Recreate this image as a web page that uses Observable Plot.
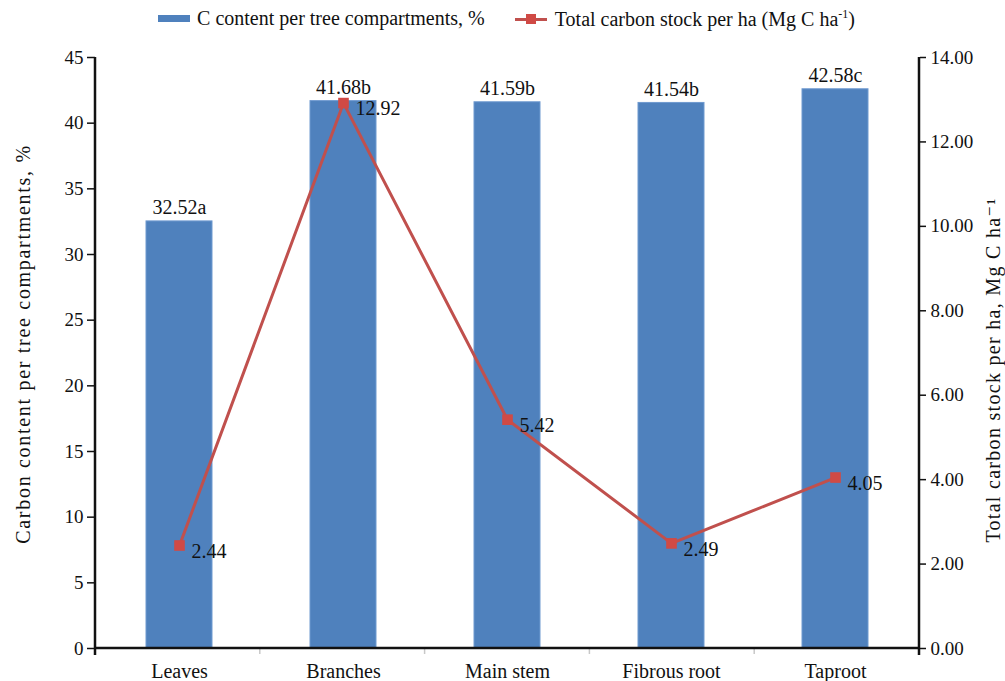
<!DOCTYPE html>
<html>
<head>
<meta charset="utf-8">
<script src="https://cdn.jsdelivr.net/npm/d3@7"></script>
<script src="https://cdn.jsdelivr.net/npm/@observablehq/plot@0.6"></script>
<style>
  html, body { margin: 0; padding: 0; background: #fff; }
  body { width: 1005px; height: 681px; overflow: hidden; font-family: "Liberation Serif", "DejaVu Serif", serif; }
  #legend { height: 36px; display: flex; justify-content: center; align-items: center; font-size: 20px; color: #111; padding-left: 8px; padding-top: 1px; box-sizing: border-box; }
  .item { display: flex; align-items: center; }
  .sw-bar { width: 32px; height: 7px; background: #4f81bd; margin-right: 7px; }
  .sw-line { position: relative; width: 32px; height: 10px; margin-right: 8px; }
  .sw-line::before { content: ""; position: absolute; left: 0; right: 0; top: 4px; height: 3px; background: #c0504d; }
  .sw-line::after { content: ""; position: absolute; left: 11px; top: 0; width: 10px; height: 10px; background: #d04a45; }
  sup { font-size: 12px; }
  #chart svg text { font-family: "Liberation Serif", "DejaVu Serif", serif !important; }
</style>
</head>
<body>
<div id="legend">
  <div class="item"><div class="sw-bar"></div><span>C content per tree compartments, %</span></div>
  <div class="item" style="margin-left:30px"><div class="sw-line"></div><span>Total carbon stock per ha (Mg C ha<sup>-1</sup>)</span></div>
</div>
<div id="chart"></div>
<script>
const categories = ["Leaves", "Branches", "Main stem", "Fibrous root", "Taproot"];
const carbonContent = [32.52, 41.68, 41.59, 41.54, 42.58];
const significance = ["a", "b", "b", "b", "c"];
const carbonStock = [2.44, 12.92, 5.42, 2.49, 4.05];
const leftTicks = [0, 5, 10, 15, 20, 25, 30, 35, 40, 45];
const rightTicks = [0, 2, 4, 6, 8, 10, 12, 14];
const leftMax = 45;
const rightMax = 14;
const ratio = leftMax / rightMax;
const leftTitle = "Carbon content per tree compartments, %";
const rightTitle = "Total carbon stock per ha, Mg C ha\u207B\u00B9";
const serif = "\"Liberation Serif\", \"DejaVu Serif\", serif";

const rows = categories.map((c, i) => ({
  cat: c,
  content: carbonContent[i],
  label: carbonContent[i].toFixed(2) + significance[i],
  stock: carbonStock[i],
  stockScaled: carbonStock[i] * ratio
}));

function frameLines(index, scales, values, dims) {
  const {width, height, marginLeft, marginRight, marginTop, marginBottom} = dims;
  const l = marginLeft, r = width - marginRight, b = height - marginBottom, t = marginTop;
  const g = d3.create("svg:g");
  const n = categories.length, step = (r - l) / n;
  for (let i = 1; i < n; i++) {
    g.append("line").attr("x1", l + i * step).attr("x2", l + i * step)
      .attr("y1", b).attr("y2", b + 6).attr("stroke", "#c8c8c8").attr("stroke-width", 1.5);
  }
  g.append("line").attr("x1", l).attr("x2", l).attr("y1", t).attr("y2", b + 7)
    .attr("stroke", "#111").attr("stroke-width", 2.5);
  g.append("line").attr("x1", r).attr("x2", r).attr("y1", t).attr("y2", b + 7)
    .attr("stroke", "#111").attr("stroke-width", 2.5);
  g.append("line").attr("x1", l - 1).attr("x2", r + 1).attr("y1", b).attr("y2", b)
    .attr("stroke", "#111").attr("stroke-width", 2.5);
  return g.node();
}

const chart = Plot.plot({
  width: 1005,
  height: 645,
  marginTop: 21,
  marginBottom: 33,
  marginLeft: 95,
  marginRight: 86,
  style: { fontFamily: serif, fontSize: "20px", color: "#111", background: "#fff" },
  x: { domain: categories, paddingInner: 0.6, paddingOuter: 0.3, label: null },
  y: { domain: [0, leftMax], label: null },
  marks: [
    Plot.barY(rows, { x: "cat", y: "content", fill: "#4f81bd", stroke: "#6f9ad0", strokeWidth: 1 }),
    Plot.line(rows, { x: "cat", y: "stockScaled", stroke: "#c0504d", strokeWidth: 3 }),
    Plot.dot(rows, { x: "cat", y: "stockScaled", symbol: "square", r: 6, fill: "#d04a45", stroke: "none" }),
    Plot.text(rows, { x: "cat", y: "content", text: "label", lineAnchor: "bottom", dy: -7, fontSize: 20, fontFamily: serif, fill: "#111" }),
    Plot.text(rows, { x: "cat", y: "stockScaled", text: d => d.stock.toFixed(2), textAnchor: "start", dx: 12, dy: 6, fontSize: 20, fontFamily: serif, fill: "#111" }),
    Plot.axisX({ tickSize: 0, tickPadding: 15, fontSize: 20, fontFamily: serif, label: null }),
    Plot.axisY({ anchor: "left", ticks: leftTicks, tickSize: 8, tickPadding: 4, fontSize: 19, fontFamily: serif, label: null, stroke: "#111", strokeWidth: 1.5 }),
    Plot.axisY({ anchor: "right", ticks: rightTicks.map(t => t * ratio), tickFormat: d => (d / ratio).toFixed(2), tickSize: 6, tickPadding: 5, fontSize: 19, fontFamily: serif, label: null, stroke: "#111", strokeWidth: 1.5 }),
    Plot.text([leftTitle], { frameAnchor: "left", textAnchor: "middle", rotate: -90, dx: -72, dy: -9, fontSize: 20, fontFamily: serif, fill: "#111" }),
    Plot.text([rightTitle], { frameAnchor: "right", textAnchor: "middle", rotate: -90, dx: 74, dy: 17, fontSize: 20, fontFamily: serif, fill: "#111" }),
    frameLines
  ]
});
d3.select(chart).selectAll("text").filter(function () { return this.textContent === leftTitle; }).attr("letter-spacing", "1.7px");
d3.select(chart).selectAll("text").filter(function () { return this.textContent === rightTitle; }).attr("letter-spacing", "1.3px");
document.getElementById("chart").appendChild(chart);
</script>
</body>
</html>
